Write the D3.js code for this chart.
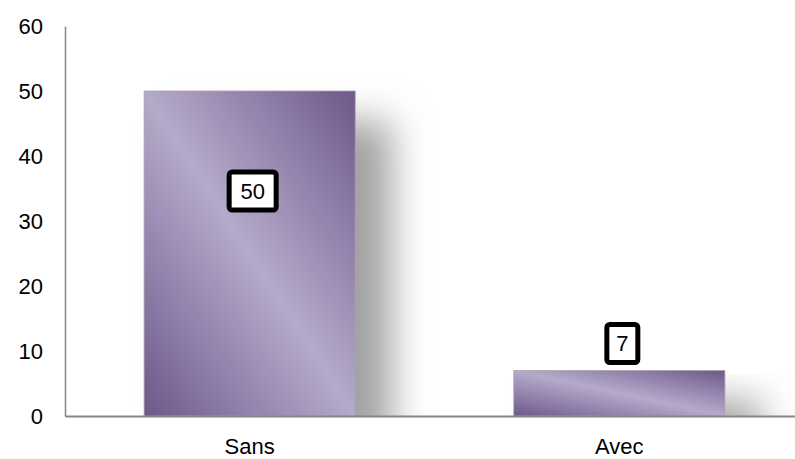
<!DOCTYPE html>
<html><head><meta charset="utf-8">
<script src="https://cdn.jsdelivr.net/npm/d3@7"></script>
<style>body{margin:0;background:#fff;overflow:hidden}svg{display:block}</style>
</head><body>
<script>
const categories = ["Sans", "Avec"];
const values = [50, 7];
const yTicks = [0, 10, 20, 30, 40, 50, 60];

const W = 795, H = 459;
const m = {left: 65, right: -9, top: 26, bottom: 43};
const svg = d3.select("body").append("svg").attr("width", W).attr("height", H);
const defs = svg.append("defs");

const grad = defs.append("linearGradient").attr("id", "barGrad")
  .attr("x1", 0).attr("y1", 1).attr("x2", 1).attr("y2", 0);
grad.append("stop").attr("offset", "0%").attr("stop-color", "#6e5889");
grad.append("stop").attr("offset", "22%").attr("stop-color", "#8d7ca8");
grad.append("stop").attr("offset", "50%").attr("stop-color", "#b5aac9");
grad.append("stop").attr("offset", "78%").attr("stop-color", "#8d7ca8");
grad.append("stop").attr("offset", "100%").attr("stop-color", "#6e5889");

const blur = defs.append("filter").attr("id", "shadow")
  .attr("x", "-40%").attr("y", "-40%").attr("width", "200%").attr("height", "180%");
blur.append("feGaussianBlur").attr("stdDeviation", 19);

const x = d3.scaleBand().domain(categories).range([m.left, W - m.right]).paddingInner(0.429).paddingOuter(0.214);
const y = d3.scaleLinear().domain([0, 60]).range([H - m.bottom, m.top]);

const plot = svg.append("g");
plot.append("clipPath").attr("id", "clip").append("rect")
  .attr("x", m.left).attr("y", 0).attr("width", W).attr("height", y(0));
plot.selectAll("rect.sh").data(values).join("rect").attr("class", "sh")
  .attr("clip-path", "url(#clip)")
  .attr("x", (d, i) => x(categories[i]) + 36)
  .attr("y", d => y(d) + 30)
  .attr("width", x.bandwidth())
  .attr("height", d => y(0) - y(d) + 20)
  .attr("fill", "#a0a0a0")
  .attr("filter", "url(#shadow)");

plot.selectAll("rect.bar").data(values).join("rect").attr("class", "bar")
  .attr("x", (d, i) => x(categories[i]))
  .attr("y", d => y(d))
  .attr("width", x.bandwidth())
  .attr("height", d => y(0) - y(d))
  .attr("fill", "url(#barGrad)")
  .attr("stroke", "#a8a2b0").attr("stroke-width", 0.8);

const font = "Liberation Sans, Arial, sans-serif";
const yAxis = svg.append("g").attr("transform", `translate(${m.left},0)`)
  .call(d3.axisLeft(y).tickValues(yTicks).tickSize(0).tickPadding(22));
yAxis.select(".domain").attr("stroke", "#868686").attr("stroke-width", 1.5);
yAxis.selectAll("text").attr("font-family", font).attr("font-size", 22).attr("fill", "#000");

const xAxis = svg.append("g").attr("transform", `translate(0,${y(0)})`)
  .call(d3.axisBottom(x).tickSize(0).tickPadding(22));
xAxis.select(".domain").attr("stroke", "#868686").attr("stroke-width", 2);
xAxis.selectAll("text").attr("font-family", font).attr("font-size", 22).attr("fill", "#000");

const lbl = svg.selectAll("g.lbl").data(values).join("g").attr("class", "lbl")
  .attr("transform", (d, i) => {
    const cx = x(categories[i]) + x.bandwidth() / 2 + 3;
    const cy = d > 20 ? y(d) + 100 : y(d) - 27;
    return `translate(${cx},${cy})`;
  });
lbl.append("rect")
  .attr("x", d => -(String(d).length * 16 + 15) / 2)
  .attr("y", -19)
  .attr("width", d => String(d).length * 16 + 15)
  .attr("height", 38)
  .attr("rx", 3)
  .attr("fill", "#fff").attr("stroke", "#000").attr("stroke-width", 5);
lbl.append("text").text(d => d)
  .attr("text-anchor", "middle").attr("dy", "0.36em")
  .attr("font-family", font).attr("font-size", 22);
</script>
</body></html>
